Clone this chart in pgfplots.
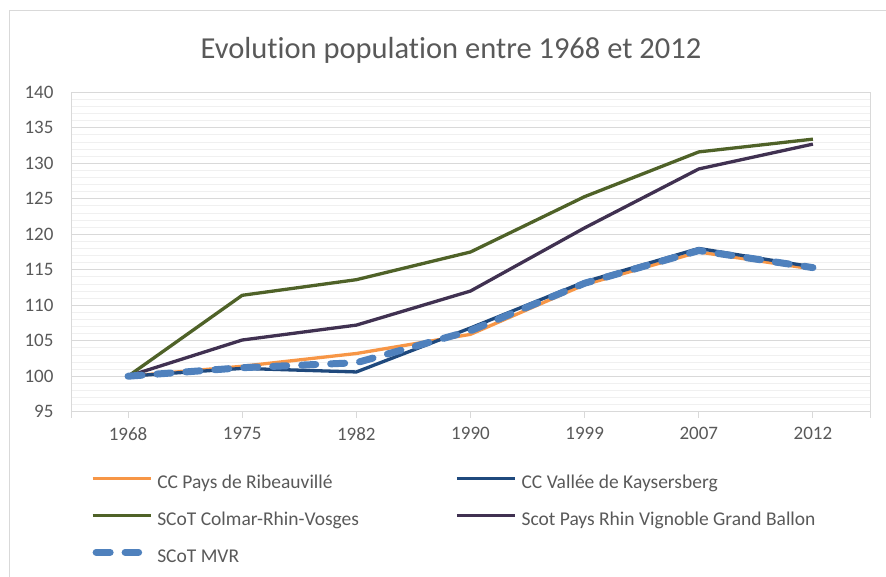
\documentclass[border=0pt]{standalone}
\usepackage{fontspec}
\setmainfont{Carlito}[Ligatures=NoCommon]
\usepackage{pgfplots}
\pgfplotsset{compat=1.18}
\definecolor{txt}{HTML}{595959}
\definecolor{gridmaj}{HTML}{D9D9D9}
\definecolor{gridmin}{HTML}{F0F0F0}
\definecolor{corange}{HTML}{F79646}
\definecolor{cblue}{HTML}{1F497D}
\definecolor{cgreen}{HTML}{4F6228}
\definecolor{cpurple}{HTML}{403151}
\definecolor{cmvr}{HTML}{4F81BD}
\pgfplotsset{
  lineleg/.style={legend image code/.code={\draw[##1] (0pt,5pt) -- (58pt,5pt);}},
  dashleg/.style={legend image code/.code={\draw[##1] (3.5pt,5pt) -- (46pt,5pt);}},
}

\begin{document}
\begin{tikzpicture}
\useasboundingbox (0pt,0pt) rectangle (886pt,-577pt);
\draw[draw=gridmaj, line width=1pt] (9pt,-11pt) -- (9pt,-577pt);
\draw[draw=gridmaj, line width=1pt] (9pt,-11pt) -- (886pt,-11pt);
\node[anchor=base, text=txt, font=\fontsize{30.5}{35}\selectfont] at (451pt,-58.3pt) {Evolution population entre 1968 et 2012};
\begin{axis}[
  at={(71pt,-411.7pt)}, anchor=south west,
  scale only axis, width=799pt, height=319.4pt,
  xmin=-0.5, xmax=6.5, ymin=95, ymax=140,
  xtick={0,1,2,3,4,5,6},
  xticklabels={1968,1975,1982,1990,1999,2007,2012},
  extra x ticks={-0.5,6.5}, extra x tick labels={},
  ytick={95,100,...,140}, minor y tick num=4,
  ymajorgrids, yminorgrids,
  major grid style={draw=gridmaj, line width=1pt},
  minor grid style={draw=gridmin, line width=0.8pt},
  axis line style={draw=gridmaj, line width=1pt},
  xtick pos=bottom, ytick pos=left, tick align=outside,
  x tick style={draw=gridmaj, line width=1pt},
  y tick style={draw=none},
  major tick length=6pt, minor tick length=0pt,
  /pgf/number format/assume math mode=true,
  yticklabel style={font=\fontsize{19}{22}\selectfont, text=txt, xshift=-8pt},
  xticklabel style={font=\fontsize{19}{22}\selectfont, text=txt, yshift=-6pt},
  legend columns=2,
  legend cell align=left,
  legend style={draw=none, fill=none, at={(axis description cs:0.025,-0.196)}, anchor=north west,
    font=\fontsize{19.5}{22}\selectfont, text=txt, inner sep=0pt, outer sep=0pt,
    column sep=5pt, row sep=19pt,
    nodes={inner sep=0pt, text height=14pt, text depth=4pt}},
  lineleg,
]
\addplot[color=corange, line width=3.3pt, line join=round] coordinates {
  (0,100) (1,101.4) (2,103.2) (3,105.9) (4,112.9) (5,117.5) (6,115.1)
};
\addlegendentry{\makebox[293pt][l]{CC Pays de Ribeauvillé}}
\addplot[color=cblue, line width=3.3pt, line join=round] coordinates {
  (0,100) (1,101.1) (2,100.6) (3,106.8) (4,113.3) (5,118.0) (6,115.4)
};
\addlegendentry{CC Vallée de Kaysersberg}
\addplot[color=cgreen, line width=3.3pt, line join=round] coordinates {
  (0,100) (1,111.4) (2,113.6) (3,117.5) (4,125.3) (5,131.6) (6,133.4)
};
\addlegendentry{\makebox[293pt][l]{SCoT Colmar-Rhin-Vosges}}
\addplot[color=cpurple, line width=3.3pt, line join=round] coordinates {
  (0,100) (1,105.1) (2,107.2) (3,112.0) (4,120.9) (5,129.2) (6,132.7)
};
\addlegendentry{Scot Pays Rhin Vignoble Grand Ballon}
\addplot[color=cmvr, line width=7pt, line cap=round, line join=round, dash pattern=on 14pt off 15pt, dashleg] coordinates {
  (0,100) (1,101.2) (2,101.9) (3,106.4) (4,113.1) (5,117.7) (6,115.3)
};
\addlegendentry{SCoT MVR}
\end{axis}
\end{tikzpicture}
\end{document}
